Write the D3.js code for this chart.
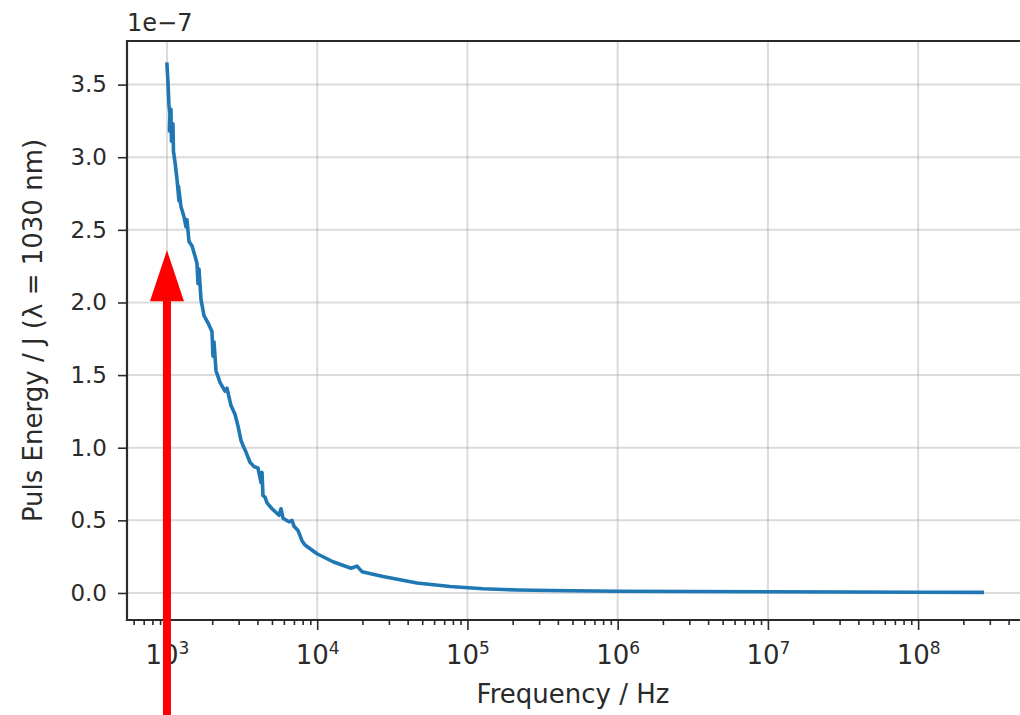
<!DOCTYPE html>
<meta charset="utf-8">
<html lang="en">
<head>
  <script src="https://cdn.jsdelivr.net/npm/d3@7"></script>
  <style>
    body { margin: 0; background: #fff; }
    svg { display: block; font-family: "DejaVu Sans", sans-serif; }
    .grid line { stroke: #b0b0b0; stroke-opacity: 0.45; stroke-width: 2; }
  </style>
</head>
<body>
<svg id="chart" width="1020" height="715"></svg>
<script>
  // measured pulse energy (units of 1e-7 J) vs repetition rate (Hz)
  const freqHz = [
    1000, 1015, 1031, 1047, 1039, 1063, 1071, 1096, 1105, 1130,
    1166, 1202, 1193, 1239, 1298, 1338, 1359, 1401, 1467, 1536,
    1584, 1609, 1634, 1685, 1764, 1875, 1993, 2024, 2055, 2120,
    2254, 2434, 2509, 2668, 2837, 2970, 3110, 3256, 3357, 3570,
    3795, 4036, 4226, 4291, 4357, 4494, 4634, 5003, 5569, 5741,
    5920, 6492, 6796, 7007, 7450, 7922, 8295, 9970, 12740, 16790,
    18410, 19870, 27420, 46170, 76610, 127000, 213900, 482000, 1e6, 1e7,
    1e8, 2.67e8
  ];
  const energy = [
    3.64, 3.52, 3.36, 3.30, 3.18, 3.33, 3.11, 3.23, 3.04, 2.97,
    2.85, 2.70, 2.80, 2.66, 2.59, 2.52, 2.57, 2.42, 2.39, 2.32,
    2.27, 2.13, 2.23, 2.02, 1.91, 1.86, 1.80, 1.63, 1.73, 1.53,
    1.45, 1.39, 1.41, 1.29, 1.23, 1.15, 1.05, 1.00, 0.97, 0.90,
    0.87, 0.86, 0.76, 0.83, 0.67, 0.66, 0.62, 0.58, 0.535, 0.58,
    0.515, 0.49, 0.50, 0.46, 0.43, 0.36, 0.33, 0.27, 0.215, 0.17,
    0.185, 0.147, 0.113, 0.069, 0.045, 0.029, 0.021, 0.015, 0.012, 0.008,
    0.005, 0.004
  ];
  const xMajor = [1e3, 1e4, 1e5, 1e6, 1e7, 1e8];
  const yTicks = [0, 0.5, 1.0, 1.5, 2.0, 2.5, 3.0, 3.5];
  const markFreq = 1000;   // red arrow position

  const svg = d3.select('#chart');
  const m = { left: 127, top: 41, right: 1023, bottom: 620 };
  const ink = '#2a2a2a';

  const x = d3.scaleLog().domain([Math.pow(10, 2.734), Math.pow(10, 8.698)]).range([m.left, m.right]);
  const y = d3.scaleLinear().domain([-0.186, 3.80]).range([m.bottom, m.top]);

  // minor ticks 2..9 x 10^k inside the domain
  const xMinor = [];
  for (let k = 2; k <= 8; k++) for (let j = 2; j <= 9; j++) {
    const v = j * Math.pow(10, k);
    if (v > x.domain()[0] && v < x.domain()[1]) xMinor.push(v);
  }

  // grid
  svg.append('g').attr('class', 'grid')
    .selectAll('line').data(xMajor).enter().append('line')
      .attr('x1', d => x(d)).attr('x2', d => x(d))
      .attr('y1', m.top).attr('y2', m.bottom);
  svg.append('g').attr('class', 'grid')
    .selectAll('line').data(yTicks).enter().append('line')
      .attr('x1', m.left).attr('x2', m.right)
      .attr('y1', d => y(d)).attr('y2', d => y(d));

  // curve
  svg.append('path')
    .datum(freqHz.map((f, i) => [f, energy[i]]))
    .attr('fill', 'none').attr('stroke', '#1f77b4').attr('stroke-width', 3.6)
    .attr('stroke-linejoin', 'round').attr('stroke-linecap', 'square')
    .attr('d', d3.line().x(d => x(d[0])).y(d => y(d[1])));

  // axes
  const yAxis = svg.append('g').attr('transform', `translate(${m.left},0)`)
    .call(d3.axisLeft(y).tickValues(yTicks).tickFormat(d3.format('.1f')).tickSize(9).tickPadding(11));
  yAxis.selectAll('text').attr('font-size', 23).attr('fill', ink).attr('font-family', 'DejaVu Sans');

  svg.append('g').attr('transform', `translate(0,${m.bottom})`)
    .call(d3.axisBottom(x).tickValues(xMinor).tickFormat('').tickSize(5));
  const xAxis = svg.append('g').attr('transform', `translate(0,${m.bottom})`)
    .call(d3.axisBottom(x).tickValues(xMajor).tickSize(10).tickPadding(8));
  xAxis.selectAll('text').each(function(d) {
    const t = d3.select(this).text('').attr('font-size', 26).attr('fill', ink)
      .attr('font-family', 'DejaVu Sans').attr('dy', '1.0em');
    t.append('tspan').text('10');
    t.append('tspan').attr('font-size', 17).attr('dy', '-0.6em').text(Math.round(Math.log10(d)));
  });

  svg.selectAll('.domain').remove();
  svg.selectAll('.tick line').attr('stroke', ink).attr('stroke-width', 1.6);

  // spines
  svg.append('path')
    .attr('d', `M${m.right},${m.top}H${m.left}V${m.bottom}H${m.right}`)
    .attr('fill', 'none').attr('stroke', ink).attr('stroke-width', 2.2);

  // labels
  svg.append('text').attr('x', 573).attr('y', 703).attr('text-anchor', 'middle')
    .attr('font-size', 26).attr('fill', ink).text('Frequency / Hz');
  svg.append('text').attr('transform', `translate(42,${(m.top + m.bottom) / 2}) rotate(-90)`)
    .attr('text-anchor', 'middle').attr('font-size', 26).attr('fill', ink)
    .text('Puls Energy / J (λ = 1030 nm)');
  svg.append('text').attr('x', m.left).attr('y', 31).attr('font-size', 24).attr('fill', ink)
    .text('1e\u22127');

  // red arrow annotation
  const ax = x(markFreq), tipY = y(2.36), headH = 51, headW = 17;
  svg.append('rect').attr('x', ax - 4).attr('y', tipY + headH - 1).attr('width', 8).attr('height', 715)
    .attr('fill', '#ff0000');
  svg.append('path')
    .attr('d', `M${ax},${tipY}L${ax + headW},${tipY + headH}L${ax - headW},${tipY + headH}Z`)
    .attr('fill', '#ff0000');
</script>
</body>
</html>
